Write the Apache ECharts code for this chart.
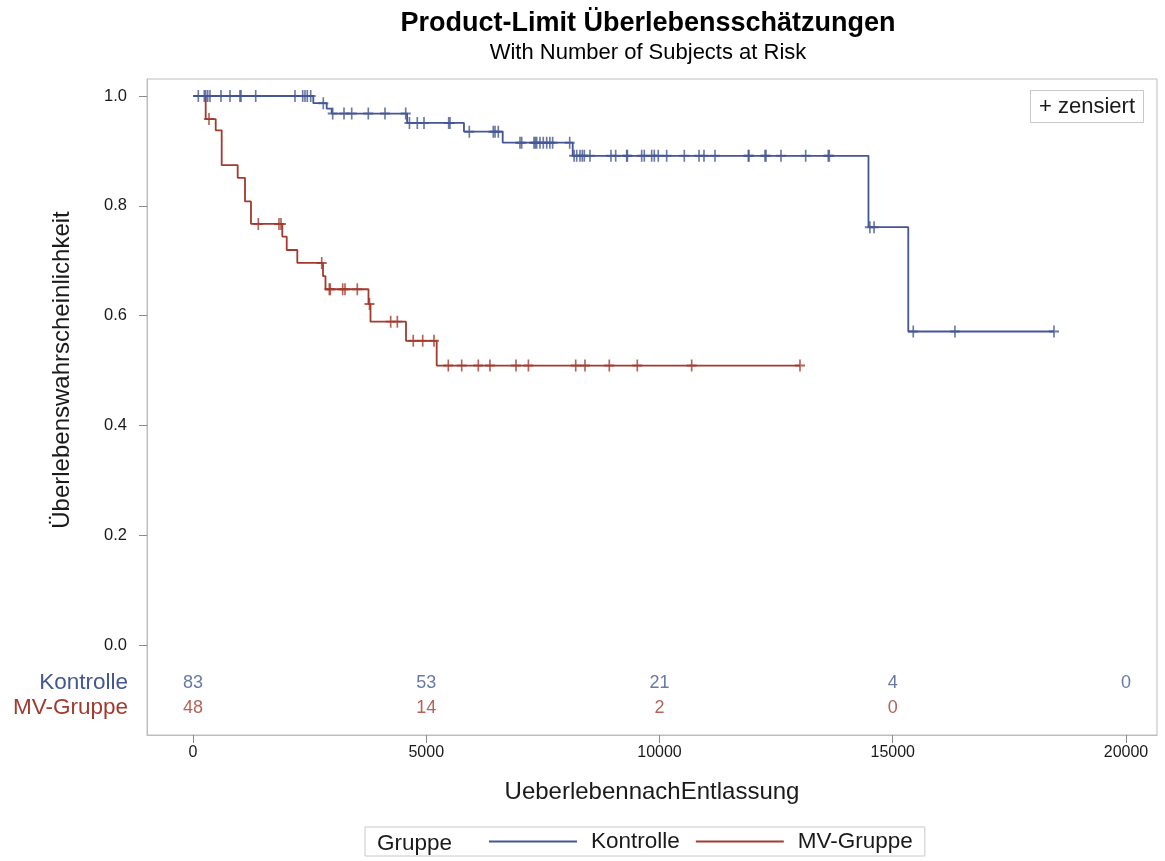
<!DOCTYPE html>
<html>
<head>
<meta charset="utf-8">
<title>Product-Limit Überlebensschätzungen</title>
<script src="https://cdn.jsdelivr.net/npm/echarts@6/dist/echarts.min.js"></script>
<style>
  html, body { margin: 0; padding: 0; background: #fff; }
  #chart { width: 1165px; height: 861px; }
</style>
</head>
<body>
<div id="chart"></div>
<script>
// Time axis ticks and numbers at risk at those ticks
const timeTicks = [0, 5000, 10000, 15000, 20000];
const survivalTicks = [0, 0.2, 0.4, 0.6, 0.8, 1.0];
const groups = ['Kontrolle', 'MV-Gruppe'];
const atRiskKontrolle = [83, 53, 21, 4, 0];
const atRiskMV = [48, 14, 2, 0];

// Kontrolle: event times and Kaplan-Meier estimate after each event
const kontrolleEventTimes = [0, 2579, 2866, 2973, 4590, 5809, 6639, 8140, 14480, 15333];
const kontrolleSurvival   = [1.0, 0.987, 0.977, 0.968, 0.951, 0.935, 0.915, 0.891, 0.761, 0.571];
// Kontrolle: censored observation times
const kontrolleCensored = [
  114, 242, 272, 315, 364, 600, 793, 1007, 1029, 1344, 2186, 2352, 2401, 2450, 2523,
  2793, 2995, 3237, 3402, 3758, 4116,
  4560, 4640, 4808, 4952, 5481, 5509,
  5923, 6437, 6474, 6545,
  7010, 7046, 7310, 7338, 7368, 7438, 7509, 7582, 7650, 7710, 8075,
  8170, 8225, 8296, 8345, 8388, 8510, 8960, 9061, 9297, 9312, 9618, 9674, 9833, 9889,
  9974, 10154, 10532, 10847, 10954, 11190, 11904, 11919, 12262, 12283, 12605, 13134,
  13618, 13640,
  14510, 14600, 15440, 16334, 18457
];

// MV-Gruppe: event times and Kaplan-Meier estimate after each event
const mvEventTimes = [0, 272, 487, 615, 958, 1115, 1243, 1914, 2009, 2236, 2787, 2840, 3762, 3805, 4566, 5224];
const mvSurvival   = [1.0, 0.958, 0.9375, 0.874, 0.851, 0.808, 0.767, 0.744, 0.7195, 0.696, 0.672, 0.648, 0.621, 0.589, 0.554, 0.509];
// MV-Gruppe: censored observation times
const mvCensored = [
  343, 1400, 1843, 1886, 2759, 2922, 2943, 3209, 3258, 3522, 3784, 4238, 4380,
  4722, 4924, 5166, 5473, 5760, 6116, 6366, 6924, 7190, 8204, 8403, 8924, 9524,
  10690, 13012
];

const BLUE = '#445694';
const RED = '#A23A2E';
const TEXT = '#1a1a1a';
const FONT = '"Liberation Sans", Arial, sans-serif';

// Step function value at time t
function survivalAt(times, surv, t) {
  let s = surv[0];
  for (let i = 0; i < times.length; i++) {
    if (times[i] <= t) s = surv[i];
  }
  return s;
}

function stepData(times, surv, censored) {
  const pts = times.map((t, i) => [t, surv[i]]);
  const last = Math.max(times[times.length - 1], ...censored);
  pts.push([last, surv[surv.length - 1]]);
  return pts;
}

function censorData(times, surv, censored) {
  return censored.map(t => [t, survivalAt(times, surv, t)]);
}

function atRiskData(row, values) {
  return values.map((v, i) => [timeTicks[i], row, v]);
}

const censorSymbol = 'path://M5 0 L5 12 M0 6 L10 6';

const chart = echarts.init(document.getElementById('chart'), null, { renderer: 'canvas' });

const option = {
  backgroundColor: '#ffffff',
  animation: false,
  textStyle: { fontFamily: FONT },
  grid: [
    { left: 147, top: 79, right: 8, bottom: 126, show: true, borderColor: '#bdbdbd', borderWidth: 1, containLabel: false },
    { left: 147, top: 670.5, right: 8, height: 50, show: false, containLabel: false }
  ],
  xAxis: [
    {
      type: 'value', gridIndex: 0, min: -986, max: 20665,
      axisLine: { show: true, onZero: false, lineStyle: { color: '#bdbdbd', width: 1 } },
      axisTick: { show: true, length: 8, customValues: timeTicks, lineStyle: { color: '#8a8a8a' } },
      axisLabel: { customValues: timeTicks, formatter: v => String(v), fontSize: 16, color: TEXT, margin: 10, fontFamily: FONT },
      splitLine: { show: false },
      name: 'UeberlebennachEntlassung', nameLocation: 'middle', nameGap: 45,
      nameTextStyle: { fontSize: 24, color: TEXT, fontFamily: FONT }
    },
    {
      type: 'value', gridIndex: 1, min: -986, max: 20665, show: false
    }
  ],
  yAxis: [
    {
      type: 'value', gridIndex: 0, min: -0.164, max: 1.031,
      axisLine: { show: true, onZero: false, lineStyle: { color: '#bdbdbd', width: 1 } },
      axisTick: { show: true, length: 8, customValues: survivalTicks, lineStyle: { color: '#8a8a8a' } },
      axisLabel: { customValues: survivalTicks, formatter: v => v.toFixed(1), fontSize: 16.5, color: TEXT, margin: 20, fontFamily: FONT },
      splitLine: { show: false }
    },
    {
      type: 'category', gridIndex: 1, data: groups, inverse: true,
      axisLine: { show: false }, axisTick: { show: false }, splitLine: { show: false },
      axisLabel: {
        interval: 0, hideOverlap: false,
        fontSize: 22.5, margin: 19, fontFamily: FONT,
        color: (value) => (value === 'Kontrolle' ? BLUE : RED)
      }
    }
  ],
  legend: {
    data: ['Kontrolle', 'MV-Gruppe'],
    left: 365, top: 827,
    orient: 'horizontal',
    icon: 'rect',
    itemWidth: 88, itemHeight: 2, itemGap: 16,
    padding: [3, 12, 3, 124],
    borderColor: '#c8c8c8', borderWidth: 1,
    textStyle: { fontSize: 22.5, color: TEXT, fontFamily: FONT, padding: [0, 0, 0, 9] },
    selectedMode: false
  },
  graphic: [
    {
      type: 'text', x: 648, y: 24,
      style: { text: 'Product-Limit Überlebensschätzungen', font: 'bold 27px ' + FONT, fill: '#000', textAlign: 'center', textVerticalAlign: 'middle' }
    },
    {
      type: 'text', x: 648, y: 53,
      style: { text: 'With Number of Subjects at Risk', font: '22px ' + FONT, fill: '#000', textAlign: 'center', textVerticalAlign: 'middle' }
    },
    {
      type: 'text', x: 62, y: 370, rotation: Math.PI / 2,
      style: { text: 'Überlebenswahrscheinlichkeit', font: '24px ' + FONT, fill: TEXT, textAlign: 'center', textVerticalAlign: 'middle' }
    },
    {
      type: 'text', x: 377, y: 844,
      style: { text: 'Gruppe', font: '22.5px ' + FONT, fill: TEXT, textAlign: 'left', textVerticalAlign: 'middle' }
    },
    {
      type: 'rect', shape: { x: 1030.5, y: 90.5, width: 113, height: 32 },
      style: { fill: '#fff', stroke: '#c8c8c8', lineWidth: 1 }
    },
    {
      type: 'text', x: 1087, y: 107,
      style: { text: '+ zensiert', font: '22px ' + FONT, fill: TEXT, textAlign: 'center', textVerticalAlign: 'middle' }
    }
  ],
  series: [
    {
      name: 'Kontrolle', type: 'line', xAxisIndex: 0, yAxisIndex: 0,
      step: 'end', symbol: 'none', silent: true, z: 3,
      lineStyle: { color: BLUE, width: 1.8 }, itemStyle: { color: BLUE },
      data: stepData(kontrolleEventTimes, kontrolleSurvival, kontrolleCensored)
    },
    {
      name: 'MV-Gruppe', type: 'line', xAxisIndex: 0, yAxisIndex: 0,
      step: 'end', symbol: 'none', silent: true, z: 2,
      lineStyle: { color: RED, width: 1.8 }, itemStyle: { color: RED },
      data: stepData(mvEventTimes, mvSurvival, mvCensored)
    },
    {
      name: 'Kontrolle zensiert', type: 'scatter', xAxisIndex: 0, yAxisIndex: 0,
      symbol: censorSymbol, symbolSize: [10, 12], silent: true, z: 4,
      itemStyle: { color: BLUE, borderColor: BLUE, borderWidth: 1.8 },
      data: censorData(kontrolleEventTimes, kontrolleSurvival, kontrolleCensored)
    },
    {
      name: 'MV-Gruppe zensiert', type: 'scatter', xAxisIndex: 0, yAxisIndex: 0,
      symbol: censorSymbol, symbolSize: [10, 12], silent: true, z: 3,
      itemStyle: { color: RED, borderColor: RED, borderWidth: 1.8 },
      data: censorData(mvEventTimes, mvSurvival, mvCensored)
    },
    {
      name: 'Risiko Kontrolle', type: 'scatter', xAxisIndex: 1, yAxisIndex: 1,
      symbolSize: 1, silent: true, itemStyle: { color: 'transparent' },
      label: { show: true, position: 'inside', formatter: p => String(p.value[2]), color: BLUE, fontSize: 18, fontFamily: FONT },
      data: atRiskData('Kontrolle', atRiskKontrolle)
    },
    {
      name: 'Risiko MV-Gruppe', type: 'scatter', xAxisIndex: 1, yAxisIndex: 1,
      symbolSize: 1, silent: true, itemStyle: { color: 'transparent' },
      label: { show: true, position: 'inside', formatter: p => String(p.value[2]), color: RED, fontSize: 18, fontFamily: FONT },
      data: atRiskData('MV-Gruppe', atRiskMV)
    }
  ]
};

chart.setOption(option);
</script>
</body>
</html>
